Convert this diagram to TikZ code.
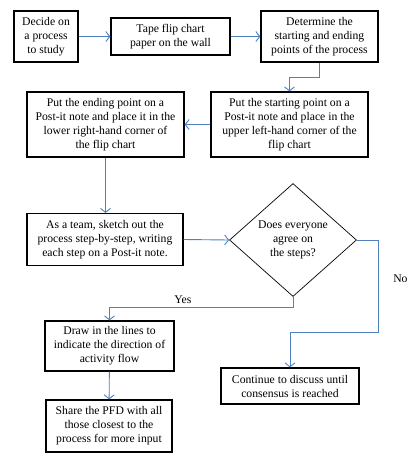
\documentclass[tikz,border=0pt]{standalone}
\usepackage{fontspec}
\setmainfont{Liberation Serif}
\usetikzlibrary{shapes,arrows.meta,positioning,calc}
\definecolor{flow}{RGB}{79,129,189}

\begin{document}
\begin{tikzpicture}[x=1pt, y=-1pt,
      every node/.append style={font=\fontsize{11.7}{14}\selectfont, align=center, inner sep=0pt},
      box/.style={draw, line width=1.2pt, rectangle},
      ask/.style={draw, line width=0.7pt, diamond, aspect=1.12},
      flowline/.style={draw=flow, line width=0.9pt, -{Straight Barb[length=4pt,width=10pt]}}]
    \useasboundingbox (0,0) rectangle (416,459);
    % first row
    \node (DECIDE) [box, minimum width=64, minimum height=51] at (46,36.5) {Decide on\\a process\\to study};
    \node (TAPE) [box, minimum width=119, minimum height=37] at (170.5,36.5) {Tape flip chart\\paper on the wall};
    \node (ENDS) [box, minimum width=117, minimum height=51] at (319.5,36.5) {Determine the\\starting and ending\\points of the process};
    % second row
    \node (START) [box, minimum width=157, minimum height=65] at (289.5,124.5) {Put the starting point on a\\Post-it note and place in the\\upper left-hand corner of the\\flip chart};
    \node (END) [box, minimum width=157, minimum height=65] at (105.5,124.5) {Put the ending point on a\\Post-it note and place it in the\\lower right-hand corner of\\the flip chart};
    % team step and question
    \node (SKETCH) [box, minimum width=156, minimum height=52] at (105,239.5) {As a team,\ sketch out the\\process step-by-step, writing\\each step on a Post-it note.};
    \node (AGREE) [ask, minimum width=127, minimum height=113] at (293,240) {Does everyone\\agree\ on\\the steps?};
    % bottom
    \node (LINES) [box, minimum width=129, minimum height=50] at (109.5,346) {Draw in the lines to\\indicate the direction of\\activity flow};
    \node (SHARE) [box, minimum width=126, minimum height=52] at (109,426) {Share\ the PFD with all\\those closest to the\\process for more input};
    \node (DISCUSS) [box, minimum width=138, minimum height=36] at (290,386) {Continue to discuss until\\consensus is reached};

    \draw [flowline] (DECIDE) -- (TAPE);
    \draw [flowline] (TAPE) -- (ENDS);
    \draw [flowline] (ENDS.south) -- ++(0,15) -| (START.north);
    \draw [flowline] (START) -- (END);
    \draw [flowline] (END.south) -- (END.south |- SKETCH.north);
    \draw [flowline] (SKETCH.east) -- (AGREE.west);
    \draw [flowline] (AGREE.south) -- ++(0,11) -| node[pos=0.3, above=4pt] {Yes} (LINES.north);
    \draw [flowline] (AGREE.east) -| node[pos=0.71, right=14pt] {No} ++(22,92) -| (DISCUSS.north);
    \draw [flowline] (LINES) -- (SHARE);
  \end{tikzpicture}
\end{document}
